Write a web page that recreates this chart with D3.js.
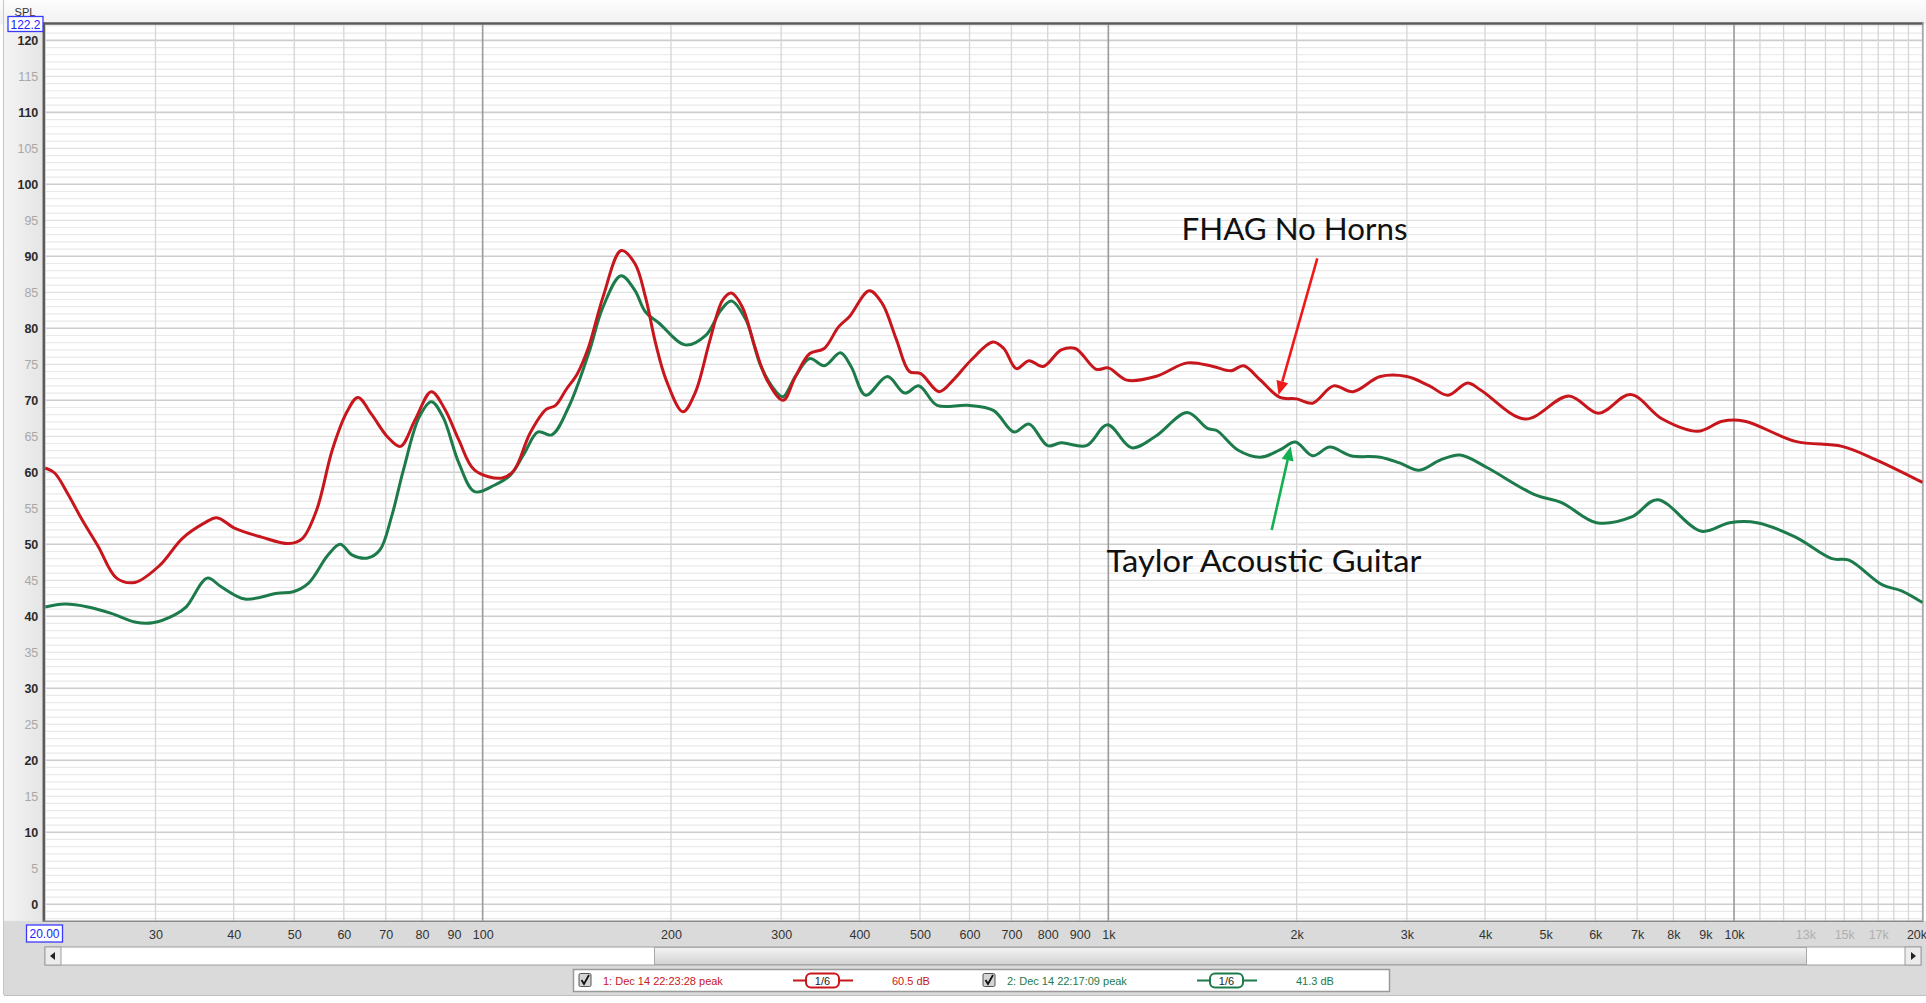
<!DOCTYPE html>
<html><head><meta charset="utf-8">
<script src="https://cdn.jsdelivr.net/npm/d3@7"></script>
<style>
html,body{margin:0;padding:0;background:#fff;overflow:hidden;}
svg{display:block;}
</style></head>
<body>
<svg id="chart" width="1926" height="1003"></svg>
<script>
// ---------- data ----------
const freqRed = [20,20.7,21.7,22.9,24.3,26,27.8,30.5,33.1,36,37.6,40.2,44.3,49,51.5,54.3,57.5,60.7,63.2,66.5,70.5,73.9,78,82.8,87.1,91.6,97.1,107.5,112.3,119,126.2,130.8,136,141.7,147.7,155.8,166.5,175.1,182,189,196.5,209,218.5,230.9,241.8,249.7,259.9,272.3,284.8,302.1,316.2,333.3,351.5,370.5,385.5,414.8,434.8,458.6,480.8,501.4,536.5,564.9,603.7,653.9,680.6,712.8,746.6,786.8,840.8,885.8,956.7,1000,1070,1190,1337,1470,1570,1645,1750,1880,2000,2120,2290,2460,2720,3000,3260,3490,3750,3940,4637,5445,6075,6830,7680,8750,9580,10400,12540,14880,16800,20000];
const splRed = [60.6,59.9,57.1,53.4,49.7,45.3,44.7,47.1,50.8,53,53.7,52.2,51,50.1,50.8,54.8,63.1,68.4,70.4,68,64.9,63.6,67.3,71.2,68.7,64.5,60.3,59.2,60.3,65.4,68.7,69.3,71.5,73.7,77.4,84.4,90.8,89,84.4,77.9,72.8,68.4,71,78.4,83.9,84.9,83,77.4,72.8,70,73.3,76.5,77.2,80.2,81.6,85.2,83.5,78.4,74,73.7,71.2,72.8,75.6,78.1,77.2,74.4,75.5,74.7,77,77.2,74.3,74.5,72.8,73.3,75.2,74.7,74.1,74.8,72.8,70.4,70.2,69.6,72,71.2,73.3,73.3,72,70.7,72.4,71.4,67.4,70.6,68.2,70.8,67.4,65.7,67.1,67.1,64.3,63.6,61.8,58.6];

const freqGreen = [20,21.5,23.4,25.5,27.8,29.7,32.2,33.6,36.3,38.2,41.7,47,49.8,52.7,56.6,59.2,61.9,65.5,68.5,71.5,74.7,79.2,82.8,86.4,91.6,97.1,104.4,110.7,116.5,122.6,129,137.3,147.7,155.8,166.4,175,182,191.5,210.7,227.7,240.2,249.7,263.4,278.5,294.4,302.1,316,333.3,351.5,373.1,388,409.4,443.5,472.7,498.3,532.6,595.7,655,707,746.6,800,840.8,922.3,997,1090,1190,1337,1440,1490,1610,1750,1880,1990,2120,2260,2440,2720,2920,3140,3390,3650,4020,4800,5300,6030,6860,7540,8870,9840,10880,12540,14340,15260,17230,18560,20000];
const splGreen = [41.3,41.7,41.3,40.4,39.2,39.1,40.2,41.3,45.3,44.1,42.4,43.2,43.4,44.6,48.5,50,48.5,48.1,49.2,53.8,60.3,67.7,69.8,67.7,61.3,57.3,58.2,59.6,62.6,65.6,65.2,69.1,76.5,83,87.3,85.3,82.3,80.7,77.7,79.1,82.5,83.8,81.2,74.7,71.2,70.5,73.3,75.8,74.8,76.6,74.7,70.7,73.3,71,72,69.3,69.3,68.6,65.6,66.7,63.7,64.1,63.7,66.6,63.4,65,68.3,66.1,65.8,63.1,62.1,63.1,64.2,62.3,63.5,62.3,62.1,61.3,60.3,61.7,62.4,60.7,56.9,55.8,53,53.8,56.2,51.8,53,53,51,48,47.8,44.4,43.5,41.9];

const yTickValues = [0,5,10,15,20,25,30,35,40,45,50,55,60,65,70,75,80,85,90,95,100,105,110,115,120];
const xTickValues = [30,40,50,60,70,80,90,100,200,300,400,500,600,700,800,900,1000,2000,3000,4000,5000,6000,7000,8000,9000,10000,13000,15000,17000,20000];
const xTickLabels = ["30","40","50","60","70","80","90","100","200","300","400","500","600","700","800","900","1k","2k","3k","4k","5k","6k","7k","8k","9k","10k","13k","15k","17k","20kHz"];
const xTickFaint = ["13k","15k","17k"];
const seriesNames = ["1: Dec 14 22:23:28 peak","2: Dec 14 22:17:09 peak"];
const seriesSmoothing = ["1/6","1/6"];
const seriesCursor = ["60.5 dB","41.3 dB"];
const annotations = ["FHAG No Horns","Taylor Acoustic Guitar"];
const yTopValue = "122.2", xLeftValue = "20.00", yUnit = "SPL";

// ---------- layout ----------
const W = 1926, H = 1003;
const L = 45.3, R = 1922.4, T = 24.5, B = 920.8;
const svg = d3.select("#chart");
const x = d3.scaleLog().domain([20, 20000]).range([L, R]);
const y = d3.scaleLinear().domain([-2.3, 122.2]).range([B, T]);
const redC = "#c8161d", greenC = "#1d7b4b";

// background chrome
svg.append("rect").attr("x",0).attr("y",0).attr("width",W).attr("height",H).attr("fill","#ffffff");
const defs = svg.append("defs");
const gTop = defs.append("linearGradient").attr("id","gtop").attr("x1",0).attr("y1",0).attr("x2",0).attr("y2",1);
gTop.append("stop").attr("offset","0").attr("stop-color","#fdfdfd");
gTop.append("stop").attr("offset","1").attr("stop-color","#f0f0f0");
svg.append("rect").attr("x",0).attr("y",0).attr("width",W).attr("height",T).attr("fill","url(#gtop)");
const gLeft = defs.append("linearGradient").attr("id","gleft").attr("x1",0).attr("y1",0).attr("x2",1).attr("y2",0);
gLeft.append("stop").attr("offset","0").attr("stop-color","#f4f4f4");
gLeft.append("stop").attr("offset","1").attr("stop-color","#e4e4e4");
svg.append("rect").attr("x",4).attr("y",T).attr("width",L-4).attr("height",B-T).attr("fill","url(#gleft)");
svg.append("line").attr("x1",3.5).attr("x2",3.5).attr("y1",0).attr("y2",995).attr("stroke","#c6c6c6");
// bottom band
svg.append("rect").attr("x",4).attr("y",B).attr("width",W-4).attr("height",995-B).attr("fill","#dadada");
svg.append("line").attr("x1",4).attr("x2",W).attr("y1",995.5).attr("y2",995.5).attr("stroke","#c0c0c0");

// plot background
svg.append("rect").attr("x",L).attr("y",T).attr("width",R-L).attr("height",B-T).attr("fill","#ffffff");

// horizontal grid (every 1 dB)
const hg = svg.append("g");
for (let v = -2; v <= 122; v++) {
  const major = v % 10 === 0, mid = v % 5 === 0;
  hg.append("line").attr("x1",L).attr("x2",R).attr("y1",y(v)).attr("y2",y(v))
    .attr("stroke", major ? "#cdcdcd" : (mid ? "#e0e0e0" : "#e9e9e9")).attr("stroke-width", major ? 1.6 : 1.2);
}
// vertical grid
const vg = svg.append("g");
const vlines = [];
for (let d = 10; d <= 10000; d *= 10) for (let k = 1; k <= 9; k++) { const f = d*k; if (f >= 20 && f <= 20000) vlines.push(f); }
for (let k = 11; k <= 19; k++) vlines.push(k*1000);
vlines.forEach(f => {
  const dec = (f === 100 || f === 1000 || f === 10000);
  vg.append("line").attr("x1",x(f)).attr("x2",x(f)).attr("y1",T).attr("y2",B)
    .attr("stroke", dec ? "#9a9a9a" : "#d6d6d6").attr("stroke-width", dec ? 1.6 : 1.3);
});

// plot border
svg.append("line").attr("x1",L-2).attr("x2",R+1).attr("y1",T-1).attr("y2",T-1).attr("stroke","#5a5a5a").attr("stroke-width",2.5);
svg.append("line").attr("x1",L-1.5).attr("x2",L-1.5).attr("y1",T-2).attr("y2",B+1).attr("stroke","#5a5a5a").attr("stroke-width",2.5);
svg.append("line").attr("x1",R+0.5).attr("x2",R+0.5).attr("y1",T-2).attr("y2",B).attr("stroke","#a0a0a0").attr("stroke-width",1.5);
svg.append("line").attr("x1",L-2).attr("x2",R+1).attr("y1",B+0.5).attr("y2",B+0.5).attr("stroke","#8a8a8a").attr("stroke-width",1.5);

// y axis labels
const yAxis = d3.axisLeft(y).tickValues(yTickValues).tickSize(0).tickPadding(0).tickFormat(d3.format("d"));
const ya = svg.append("g").attr("transform",`translate(${L-7},0)`).call(yAxis);
ya.select(".domain").remove();
ya.selectAll("text").attr("font-family","'Liberation Sans', Arial, sans-serif").attr("font-size",12.5)
  .attr("fill", d => d % 10 === 0 ? "#2a2a2a" : "#a8a8a8").attr("font-weight", d => d % 10 === 0 ? "bold" : "normal");

// x axis labels
const xAxis = d3.axisBottom(x).tickValues(xTickValues).tickSize(0).tickPadding(0)
  .tickFormat((d,i) => xTickLabels[i]);
const xa = svg.append("g").attr("transform",`translate(0,${B+9})`).call(xAxis);
xa.select(".domain").remove();
xa.selectAll("text").attr("font-family","'Liberation Sans', Arial, sans-serif").attr("font-size",12.5)
  .attr("fill", (d,i) => xTickFaint.includes(xTickLabels[i]) ? "#b0b0b0" : "#333333")
  .attr("font-weight", "normal")
  .attr("text-anchor", (d,i) => i === xTickLabels.length-1 ? "start" : "middle")
  .attr("dx", (d,i) => i === xTickLabels.length-1 ? -16 : 0);

// value boxes
function valueBox(cx, cy, w, h, txt) {
  svg.append("rect").attr("x",cx).attr("y",cy).attr("width",w).attr("height",h)
    .attr("fill","#ffffff").attr("stroke","#3a3aff").attr("stroke-width",1.3);
  svg.append("text").attr("x",cx+w/2).attr("y",cy+h/2+4.5).attr("text-anchor","middle")
    .attr("font-family","'Liberation Sans', Arial, sans-serif").attr("font-size",12).attr("fill","#2020ff").text(txt);
}
svg.append("text").attr("x",25).attr("y",16).attr("text-anchor","middle")
  .attr("font-family","'Liberation Sans', Arial, sans-serif").attr("font-size",11).attr("fill","#333").text(yUnit);
valueBox(8, 16.5, 35, 15, yTopValue);
valueBox(26.5, 925, 36, 17, xLeftValue);

// curves
const line = d3.line().x(d => x(d[0])).y(d => y(d[1])).curve(d3.curveCatmullRom.alpha(0.5));
const plot = svg.append("g");
plot.append("path").datum(d3.zip(freqGreen, splGreen)).attr("d", line)
  .attr("fill","none").attr("stroke",greenC).attr("stroke-width",3).attr("stroke-linejoin","round");
plot.append("path").datum(d3.zip(freqRed, splRed)).attr("d", line)
  .attr("fill","none").attr("stroke",redC).attr("stroke-width",3).attr("stroke-linejoin","round");

// annotations
function arrow(x1,y1,x2,y2,col) {
  const ang = Math.atan2(y2-y1, x2-x1), hl = 14, hw = 6;
  const bx = x2 - hl*Math.cos(ang), by = y2 - hl*Math.sin(ang);
  svg.append("line").attr("x1",x1).attr("y1",y1).attr("x2",bx).attr("y2",by).attr("stroke",col).attr("stroke-width",2.6);
  const px = -Math.sin(ang)*hw, py = Math.cos(ang)*hw;
  svg.append("path").attr("d",`M${x2},${y2}L${bx+px},${by+py}L${bx-px},${by-py}Z`).attr("fill",col);
}
const annFont = "Lato, 'Open Sans', sans-serif";
svg.append("text").attr("x",1181.5).attr("y",240).attr("font-family",annFont).attr("font-size",31.5)
  .attr("textLength",226).attr("lengthAdjust","spacingAndGlyphs").attr("fill","#111").text(annotations[0]);
svg.append("text").attr("x",1106.5).attr("y",571.5).attr("font-family",annFont).attr("font-size",31.5)
  .attr("textLength",315).attr("lengthAdjust","spacingAndGlyphs").attr("fill","#111").text(annotations[1]);
arrow(1317.3, 258.3, 1278.5, 395, "#f01818");
arrow(1271.7, 530, 1290.7, 446.5, "#12b050");

// scrollbar
const sbY = 947, sbH = 18;
svg.append("rect").attr("x",45).attr("y",sbY).attr("width",1876).attr("height",sbH).attr("fill","#ffffff").attr("stroke","#9e9e9e");
const gThumb = defs.append("linearGradient").attr("id","gthumb").attr("x1",0).attr("y1",0).attr("x2",0).attr("y2",1);
gThumb.append("stop").attr("offset","0").attr("stop-color","#f4f4f4");
gThumb.append("stop").attr("offset","1").attr("stop-color","#d2d2d2");
svg.append("rect").attr("x",654.5).attr("y",sbY+0.5).attr("width",1152).attr("height",sbH-1).attr("fill","url(#gthumb)").attr("stroke","#a8a8a8");
svg.append("rect").attr("x",45).attr("y",sbY).attr("width",16).attr("height",sbH).attr("fill","#ececec").attr("stroke","#9e9e9e");
svg.append("rect").attr("x",1905).attr("y",sbY).attr("width",16).attr("height",sbH).attr("fill","#ececec").attr("stroke","#9e9e9e");
svg.append("path").attr("d",`M50,${sbY+9}L55,${sbY+5}L55,${sbY+13}Z`).attr("fill","#222");
svg.append("path").attr("d",`M1916,${sbY+9}L1911,${sbY+5}L1911,${sbY+13}Z`).attr("fill","#222");

// legend
const lg = svg.append("g");
lg.append("rect").attr("x",573.5).attr("y",969.5).attr("width",816).attr("height",22).attr("fill","#ffffff").attr("stroke","#9a9a9a").attr("stroke-width",1.5);
const legCols = [redC, greenC];
const legX = [579, 983];
const legFont = "'Liberation Sans', Arial, sans-serif";
seriesNames.forEach((nm, i) => {
  const x0 = legX[i], col = legCols[i];
  lg.append("rect").attr("x",x0).attr("y",973.5).attr("width",12).attr("height",13).attr("fill","#d4d4d4").attr("stroke","#555").attr("rx",1.5);
  lg.append("path").attr("d",`M${x0+2.5},${980}L${x0+5},${984}L${x0+10},${975}`).attr("fill","none").attr("stroke","#111").attr("stroke-width",1.8);
  lg.append("text").attr("x",x0+24).attr("y",985).attr("font-family",legFont).attr("font-size",11).attr("fill",col).text(nm);
  const sx = x0 + 214;
  lg.append("line").attr("x1",sx).attr("x2",sx+60).attr("y1",980.5).attr("y2",980.5).attr("stroke",col).attr("stroke-width",2);
  lg.append("rect").attr("x",sx+13).attr("y",973.5).attr("width",33).attr("height",14).attr("rx",5).attr("fill","#ffffff").attr("stroke",col).attr("stroke-width",2);
  lg.append("text").attr("x",sx+29.5).attr("y",985).attr("text-anchor","middle").attr("font-family",legFont).attr("font-size",11).attr("fill","#222").text(seriesSmoothing[i]);
  lg.append("text").attr("x",x0+313).attr("y",985).attr("font-family",legFont).attr("font-size",11).attr("fill",col).text(seriesCursor[i]);
});
</script>
</body></html>
